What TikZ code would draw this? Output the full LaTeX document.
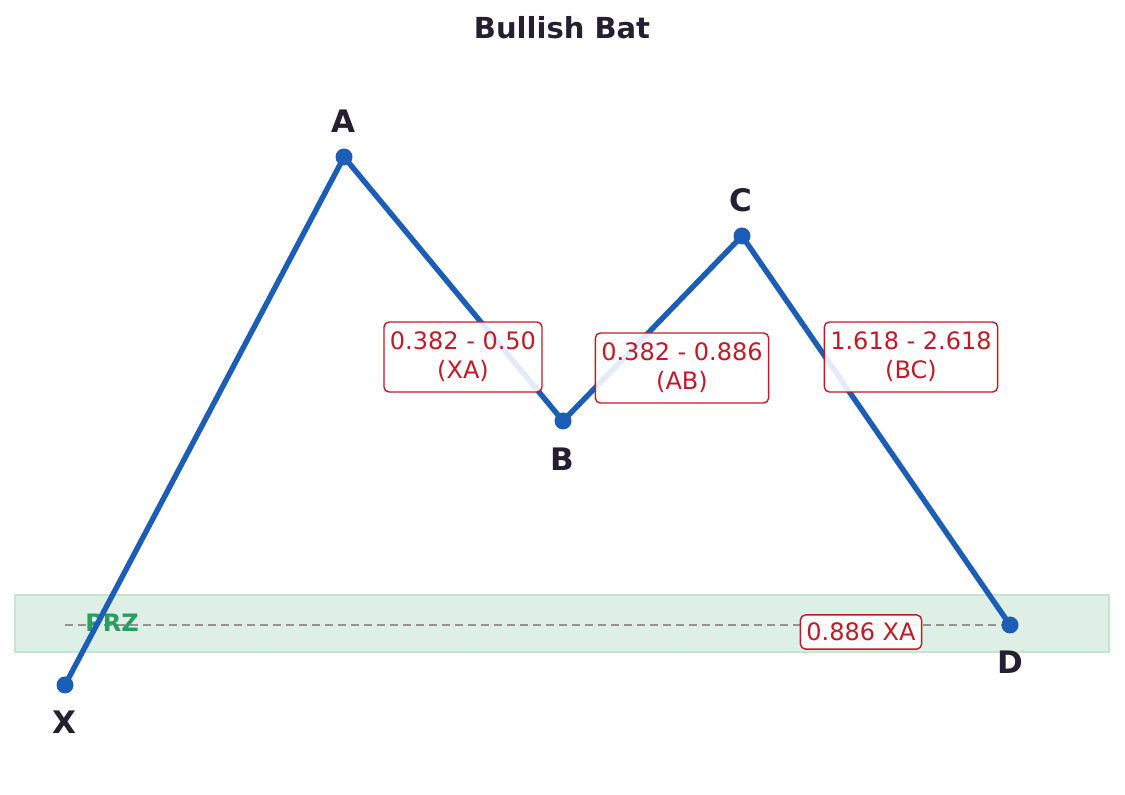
\documentclass[tikz,border=0pt]{standalone}
\usepackage{fontspec}
\setmainfont{DejaVu Sans}
\usetikzlibrary{positioning}

\definecolor{lineblue}{HTML}{1C5DB5}
\definecolor{ratiored}{HTML}{C01C28}
\definecolor{przgreen}{HTML}{2A9D63}
\definecolor{przfill}{HTML}{DEF0E6}
\definecolor{przedge}{HTML}{C3E5D2}
\definecolor{inkdark}{HTML}{241F31}

\begin{document}
\begin{tikzpicture}[x=0.5pt, y=-0.5pt,
    pivot/.style={circle, fill=lineblue, inner sep=0pt, minimum size=8.5pt},
    ptlabel/.style={font=\fontsize{15.5}{18}\selectfont\bfseries, text=inkdark},
    ratiobox/.style={draw=ratiored, line width=0.7pt, rounded corners=2.5pt,
        fill=white, fill opacity=0.88, text opacity=1, text=ratiored,
        align=center, inner xsep=3pt, inner ysep=5pt,
        font=\fontsize{12}{14.5}\selectfont}]
    \useasboundingbox (0,0) rectangle (1125,795);

    % PRZ band
    \fill[przfill, draw=przedge, line width=0.6pt] (15,595) rectangle (1109,652);
    \coordinate (przL) at (65,625);
    \coordinate (przR) at (1010,625);
    \draw[gray!85, line width=1.2pt, dash pattern=on 4pt off 2.5pt] (przL) -- (przR);
    \node[text=przgreen, font=\fontsize{12}{14}\selectfont\bfseries] (prz) at (112,623) {PRZ};

    % Title
    \node[text=inkdark, font=\fontsize{14.5}{17}\selectfont\bfseries] (title) at (562,28) {Bullish Bat};

    % Pattern points
    \coordinate (X) at (65,685);
    \coordinate (A) at (344,157);
    \coordinate (B) at (563,421);
    \coordinate (C) at (742,236);
    \coordinate (D) at (1010,625);

    % Legs
    \draw[lineblue, line width=2.7pt, line join=round] (X) -- (A) -- (B) -- (C) -- (D);
    \foreach \p in {X, A, B, C, D}
        \node[pivot] (dot\p) at (\p) {};

    % Point labels
    \node[ptlabel] (lblX) at (64,722) {X};
    \node[ptlabel] (lblA) at (343,121) {A};
    \node[ptlabel] (lblB) at (562,459) {B};
    \node[ptlabel] (lblC) at (741,200) {C};
    \node[ptlabel] (lblD) at (1010,662) {D};

    % Fib ratios
    \node[ratiobox] (rXA) at (463,357) {0.382 - 0.50\\(XA)};
    \node[ratiobox] (rAB) at (682,368) {0.382 - 0.886\\(AB)};
    \node[ratiobox] (rBC) at (911,357) {1.618 - 2.618\\(BC)};
    \node[ratiobox, inner ysep=4pt] (rD) at (861,632) {0.886 XA};
\end{tikzpicture}
\end{document}
